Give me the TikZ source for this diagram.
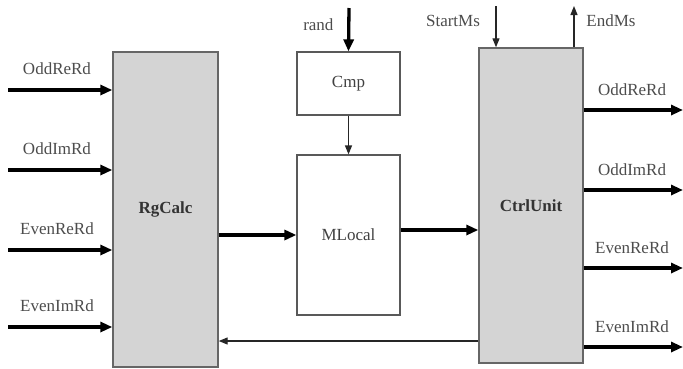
\documentclass[tikz,border=0pt]{standalone}
\usepackage{fontspec}
\setmainfont{Liberation Serif}
\usetikzlibrary{arrows.meta}

\tikzset{
	block/.style={draw=black!60, line width=1.4pt, fill=black!17, minimum width=105pt, minimum height=315pt, inner sep=0pt, text=black!80, font=\fontsize{17}{19}\selectfont\bfseries},
	plainbox/.style={draw=black!65, line width=1.2pt, fill=white, minimum width=103pt, inner sep=0pt, text=black!75, font=\fontsize{17}{19}\selectfont},
	sig/.style={text=black!70, font=\fontsize{17}{19}\selectfont},
	bus/.style={line width=3.3pt, -{Triangle[length=12pt,width=10pt]}},
	wire/.style={line width=1.2pt, black!85, -{Triangle[length=9pt,width=7pt]}}
}

\begin{document}
\begin{tikzpicture}[x=1pt,y=-1pt]
\useasboundingbox (0,0) rectangle (683,368);

%----------------------------
% Blocks
%----------------------------
\node[block] (rg) at (165.5,209.5) {RgCalc};
\node[plainbox, minimum height=63pt] (cmp) at (348.5,83.5) {Cmp};
\node[plainbox, minimum height=160pt] (ml) at (348.5,235) {MLocal};
\node[block, minimum width=104pt] (cu) at (531,205.5) {CtrlUnit};

%----------------------------
% Left: inputs of RgCalc
%----------------------------
\foreach \y/\name in {90/OddReRd, 170/OddImRd, 250/EvenReRd, 327/EvenImRd}{
	\coordinate (in\y) at (8,\y);
	\draw[bus] (in\y) -- (in\y -| rg.west);
	\node[sig] (lin\y) at (57,\y-21) {\name};
}

%----------------------------
% Middle: data path
%----------------------------
\draw[bus] (rg.east |- ml) -- (ml);
\coordinate (rnd) at (349,8);
\node[sig, left=12pt] (lrnd) at (349,25) {rand};
\draw[bus] (rnd) -- (cmp.north);
\draw[wire] (cmp.south) -- (ml.north);
\draw[bus] ([yshift=5pt]ml.east) -- ([yshift=5pt]ml.east -| cu.west);

% Feedback to RgCalc
\coordinate (fb) at (531,341);
\draw[wire] (fb -| cu.west) -- (fb -| rg.east);

%----------------------------
% Right: CtrlUnit control and outputs
%----------------------------
\coordinate (st) at (496,6);
\coordinate (en) at (574,6);
\draw[wire] (st) -- (st |- cu.north);
\draw[wire] (en |- cu.north) -- (en);
\node[sig] (lst) at (453,21) {StartMs};
\node[sig] (len) at (611,21) {EndMs};

\foreach \y/\name in {110/OddReRd, 190/OddImRd, 268/EvenReRd, 347/EvenImRd}{
	\coordinate (out\y) at (683,\y);
	\draw[bus] (out\y -| cu.east) -- (out\y);
	\node[sig] (lout\y) at (632,\y-20) {\name};
}

\end{tikzpicture}
\end{document}
